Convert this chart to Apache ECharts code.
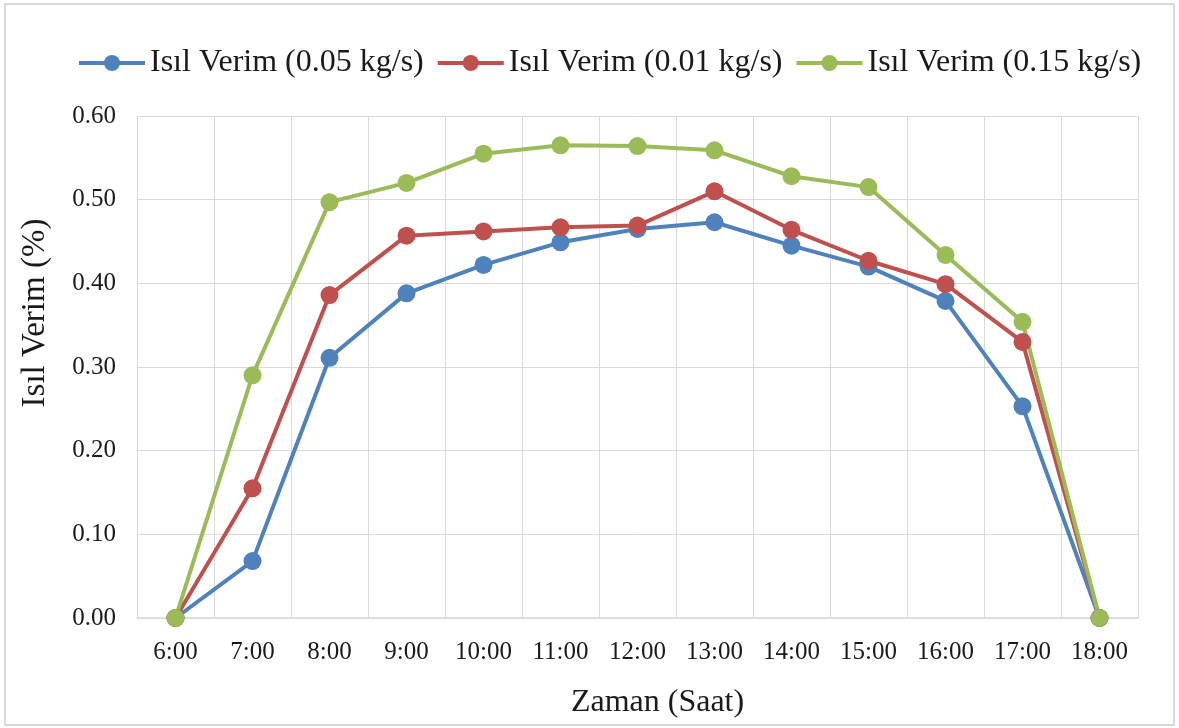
<!DOCTYPE html>
<html><head><meta charset="utf-8">
<script src="https://cdn.jsdelivr.net/npm/echarts@6/dist/echarts.min.js"></script>
<style>html,body{margin:0;padding:0;background:#fff}#c{width:1179px;height:728px}
#frame{position:absolute;left:4px;top:3px;width:1171px;height:723px;border:2px solid #d9d9d9;box-sizing:border-box;pointer-events:none}</style>
</head><body><div id="c"></div><div id="frame"></div>
<script>
const categories = ['6:00','7:00','8:00','9:00','10:00','11:00','12:00','13:00','14:00','15:00','16:00','17:00','18:00'];
const seriesNames = ['Isıl Verim (0.05 kg/s)','Isıl Verim (0.01 kg/s)','Isıl Verim (0.15 kg/s)'];
const blue = [0, 0.068, 0.311, 0.388, 0.422, 0.449, 0.465, 0.473, 0.445, 0.420, 0.379, 0.253, 0];
const red = [0, 0.155, 0.386, 0.457, 0.462, 0.467, 0.469, 0.510, 0.464, 0.427, 0.399, 0.330, 0];
const green = [0, 0.290, 0.497, 0.520, 0.555, 0.565, 0.564, 0.559, 0.528, 0.515, 0.434, 0.354, 0];
const colors = ['#4f81bd','#c0504d','#9bbb59'];
const font = 'Liberation Serif, Times New Roman, serif';
const chart = echarts.init(document.getElementById('c'));
const mk = (name, data, color) => ({
  name, type:'line', data, color,
  symbol:'circle', symbolSize:18,
  lineStyle:{width:4,color}, itemStyle:{color},
  animation:false
});
chart.setOption({
  animation:false,
  legend:{
    top:42, left:72, itemWidth:66, itemHeight:20, itemGap:12,
    lineStyle:{width:4},
    textStyle:{fontFamily:font,fontSize:32,color:'#1a1a1a'},
    data:seriesNames
  },
  grid:{left:137,right:41,top:116,bottom:110,containLabel:false},
  xAxis:{
    type:'category', data:categories, boundaryGap:true,
    name:'Zaman (Saat)', nameLocation:'middle', nameGap:69,
    nameTextStyle:{fontFamily:font,fontSize:32,color:'#1a1a1a',padding:[0,0,0,40]},
    axisLine:{lineStyle:{color:'#d9d9d9',width:1.5}},
    axisTick:{show:false},
    axisLabel:{fontFamily:font,fontSize:25,color:'#1a1a1a',margin:22,interval:0},
    splitLine:{show:true,lineStyle:{color:'#d9d9d9',width:1}}
  },
  yAxis:{
    type:'value', min:0, max:0.6, interval:0.1,
    name:'Isıl Verim (%)', nameLocation:'middle', nameGap:85,
    nameTextStyle:{fontFamily:font,fontSize:33,color:'#1a1a1a',padding:[0,0,0,108]},
    axisLine:{show:true,lineStyle:{color:'#d9d9d9',width:1}},
    axisTick:{show:false},
    axisLabel:{fontFamily:font,fontSize:25,color:'#1a1a1a',margin:21,formatter:v=>v.toFixed(2)},
    splitLine:{show:true,lineStyle:{color:'#d9d9d9',width:1}}
  },
  series:[mk(seriesNames[0],blue,colors[0]),mk(seriesNames[1],red,colors[1]),mk(seriesNames[2],green,colors[2])]
});
</script></body></html>
